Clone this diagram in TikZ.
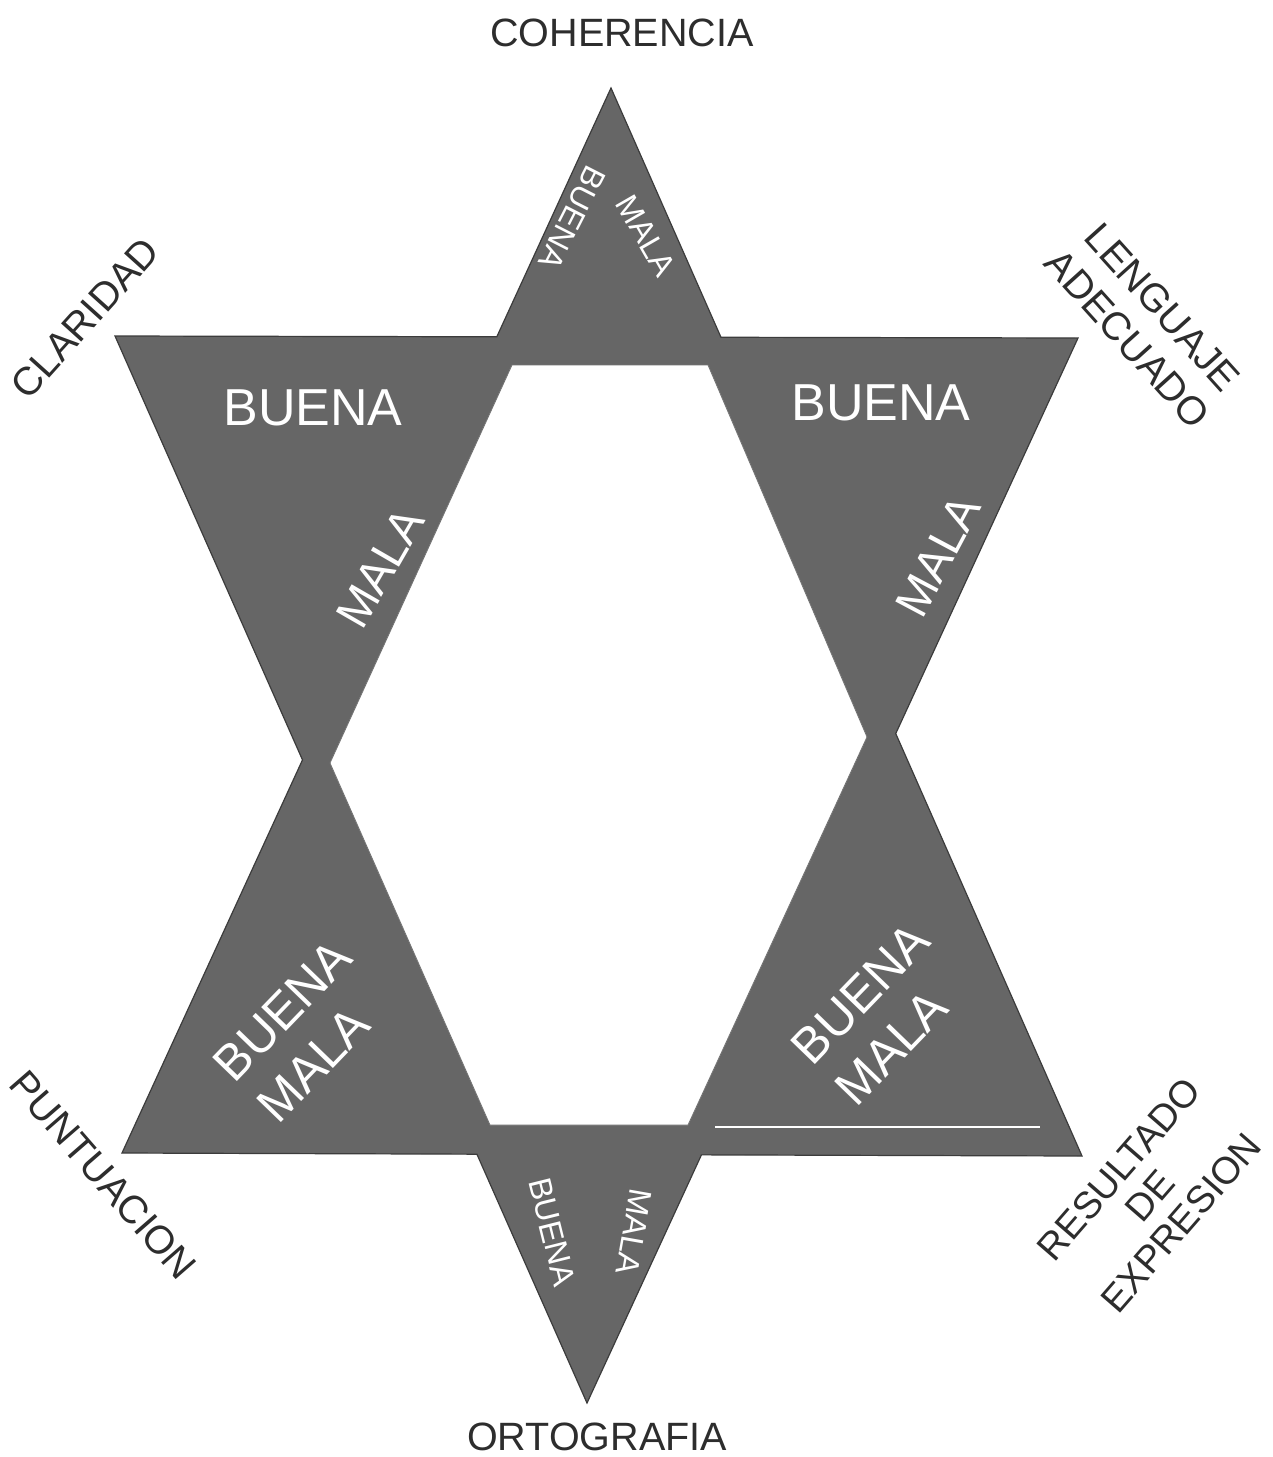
\documentclass[tikz,border=0pt]{standalone}
\usepackage{fontspec}
\setmainfont{Liberation Sans}
\definecolor{starfill}{RGB}{102,102,102}
\definecolor{staredge}{RGB}{60,60,60}
\definecolor{lblcol}{RGB}{45,45,45}
\tikzset{
  outlbl/.style={text=lblcol, inner sep=0pt, font=\fontsize{39.5}{47}\selectfont},
  bigw/.style={text=white, inner sep=0pt, font=\fontsize{52}{60}\selectfont},
  midw/.style={text=white, inner sep=0pt, font=\fontsize{47}{56}\selectfont},
  pairw/.style={text=white, inner sep=0pt, align=left, font=\fontsize{50}{60}\selectfont},
  smallw/.style={text=white, inner sep=0pt, font=\fontsize{32}{36}\selectfont},
  starshape/.style={fill=starfill, draw=staredge, line width=1.2pt, line join=miter},
  hole/.style={fill=white, draw=black!55, line width=0.8pt}
}
\begin{document}
\begin{tikzpicture}[x=1pt,y=-1pt]
\useasboundingbox[fill=white] (0,0) rectangle (1273,1457);
% triangle vertices
\coordinate (T) at (611,88);
\coordinate (BL) at (122,1153);
\coordinate (BR) at (1082,1156);
\coordinate (TL) at (115,336);
\coordinate (TR) at (1078,338);
\coordinate (B) at (587,1403);
% star outline
\draw[starshape] (T) -- (intersection of T--BR and TL--TR) -- (TR)
  -- (intersection of TR--B and T--BR) -- (BR)
  -- (intersection of BR--BL and TR--B) -- (B)
  -- (intersection of B--TL and BL--BR) -- (BL)
  -- (intersection of BL--T and TL--B) -- (TL)
  -- (intersection of TL--TR and T--BL) -- cycle;
% central white hexagon
\coordinate (h1) at (512,365);
\coordinate (h2) at (708,365);
\coordinate (h3) at (867,737);
\coordinate (h4) at (688,1125);
\coordinate (h5) at (490,1125);
\coordinate (h6) at (330,763);
\draw[hole] (h1) -- (h2) -- (h3) -- (h4) -- (h5) -- (h6) -- cycle;
% thin light streak in lower right triangle
\coordinate (s1) at (715,1127);
\coordinate (s2) at (1040,1127);
\draw[white, line width=1.2pt] (s1) -- (s2);
% outer labels
\node[outlbl] (coh) at (622,33) {COHERENCIA};
\node[outlbl] (ort) at (597,1437) {ORTOGRAFIA};
\node[outlbl, rotate=48] (cla) at (85,318) {CLARIDAD};
\node[outlbl, rotate=-48, align=center] (len) at (1145,323) {LENGUAJE\\ADECUADO};
\node[outlbl, rotate=-49] (pun) at (103,1175) {PUNTUACION};
\node[outlbl, rotate=49, align=center, font=\fontsize{38}{41}\selectfont] (res) at (1150,1196) {RESULTADO\\DE\\EXPRESION};
% inner white labels
\node[smallw, rotate=-117] (tb) at (572,218) {BUENA};
\node[smallw, rotate=-60] (tm) at (646,236) {MALA};
\node[bigw] (ulb) at (313,408) {BUENA};
\node[midw, rotate=60] (ulm) at (380,568) {MALA};
\node[bigw] (urb) at (881,403) {BUENA};
\node[midw, rotate=62] (urm) at (938,556) {MALA};
\node[pairw, rotate=46] (llp) at (304,1031) {BUENA\\MALA};
\node[pairw, rotate=46] (lrp) at (882,1014) {BUENA\\MALA};
\node[smallw, rotate=-76] (bb) at (552,1232) {BUENA};
\node[smallw, rotate=-100] (bm) at (634,1232) {MALA};
\end{tikzpicture}
\end{document}
